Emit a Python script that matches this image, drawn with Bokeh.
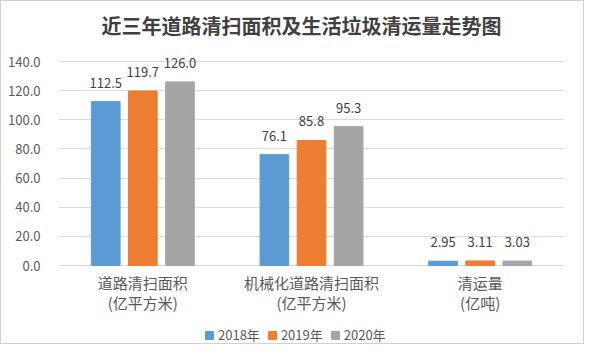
from bokeh.plotting import figure
from bokeh.models import (ColumnDataSource, FactorRange, Range1d, NumeralTickFormatter, Legend,
                          LegendItem, FixedTicker, Label)
from bokeh.transform import dodge
from bokeh.core.properties import value
from bokeh.embed import file_html
from bokeh.resources import INLINE

title_text = "近三年道路清扫面积及生活垃圾清运量走势图"
categories = ["道路清扫面积", "机械化道路清扫面积", "清运量"]
units = ["(亿平方米)", "(亿平方米)", "(亿吨)"]
years = ["2018年", "2019年", "2020年"]
s2018 = [112.5, 76.1, 2.95]
s2019 = [119.7, 85.8, 3.11]
s2020 = [126.0, 95.3, 3.03]
decimals = [1, 1, 2]
y_ticks = [0, 20, 40, 60, 80, 100, 120, 140]

colors = ["#5B9BD5", "#ED7D31", "#A5A5A5"]
series = [s2018, s2019, s2020]
offsets = [-0.22, 0.0, 0.22]

FONT = "Noto Sans CJK SC"
LABEL_COLOR = "#595959"

W, H = 584, 344
FRAME_L, FRAME_R = 57, 563
ZERO_PX, TOP_PX = 264, 60          # pixel rows of the 0 and 140 gridlines
px_per_unit = (ZERO_PX - TOP_PX) / 140
y_min = -(H - ZERO_PX) / px_per_unit
y_max = ZERO_PX / px_per_unit

p = figure(width=W, height=H, output_backend="svg", toolbar_location=None,
           x_range=FactorRange(*categories), y_range=Range1d(y_min, y_max),
           min_border_left=FRAME_L, min_border_right=W - FRAME_R,
           min_border_top=0, min_border_bottom=0)
p.styles = {"border": "1px solid #d0d0d0"}

p.outline_line_color = None
p.xaxis.visible = False
p.xgrid.grid_line_color = None
p.ygrid.grid_line_color = "#D9D9D9"
p.ygrid.ticker = FixedTicker(ticks=y_ticks)
p.yaxis.ticker = FixedTicker(ticks=y_ticks)
p.yaxis.formatter = NumeralTickFormatter(format="0.0")
p.yaxis.axis_line_color = None
p.yaxis.major_tick_line_color = None
p.yaxis.minor_tick_line_color = None
p.yaxis.major_label_standoff = 12
p.yaxis.major_label_text_font = FONT
p.yaxis.major_label_text_font_size = "13px"
p.yaxis.major_label_text_color = LABEL_COLOR

# title, centred on the page
title_x = (300 - FRAME_L) / (FRAME_R - FRAME_L) * len(categories)
title_y = (ZERO_PX - 24) / px_per_unit
p.add_layout(Label(x=title_x, y=title_y, text=title_text, text_align="center",
                   text_baseline="middle", text_font=FONT, text_font_size="20px",
                   text_font_style="bold", text_color="#404040"))

# category labels (two lines) hanging below the zero line
cat_src = ColumnDataSource(dict(cat=categories, unit=units, zero=[0] * len(categories)))
p.text(x="cat", y="zero", text="cat", source=cat_src, y_offset=17,
       text_align="center", text_baseline="middle",
       text_font=value(FONT), text_font_size="15px", text_color=LABEL_COLOR)
p.text(x="cat", y="zero", text="unit", source=cat_src, y_offset=37,
       text_align="center", text_baseline="middle",
       text_font=value(FONT), text_font_size="15px", text_color=LABEL_COLOR)

items = []
for yr, vals, col, off in zip(years, series, colors, offsets):
    src = ColumnDataSource(dict(cat=categories, v=vals,
                                lab=[f"{v:.{d}f}" for v, d in zip(vals, decimals)]))
    r = p.vbar(x=dodge("cat", off, range=p.x_range), top="v", width=0.17, source=src,
               fill_color=col, line_color=col)
    p.text(x=dodge("cat", off, range=p.x_range), y="v", text="lab", source=src,
           text_align="center", text_baseline="bottom", y_offset=-14,
           text_font=value(FONT), text_font_size="13px", text_color="#404040")
    items.append(LegendItem(label=yr, renderers=[r]))

legend = Legend(items=items, orientation="horizontal", location=(146, 1),
                glyph_width=10, glyph_height=10, label_text_font=FONT,
                label_text_font_size="13px", label_text_color=LABEL_COLOR,
                border_line_color=None, background_fill_alpha=0, spacing=7, label_standoff=4,
                padding=2, margin=0)
p.add_layout(legend, "center")

open("out.html", "w").write(file_html(p, INLINE))
